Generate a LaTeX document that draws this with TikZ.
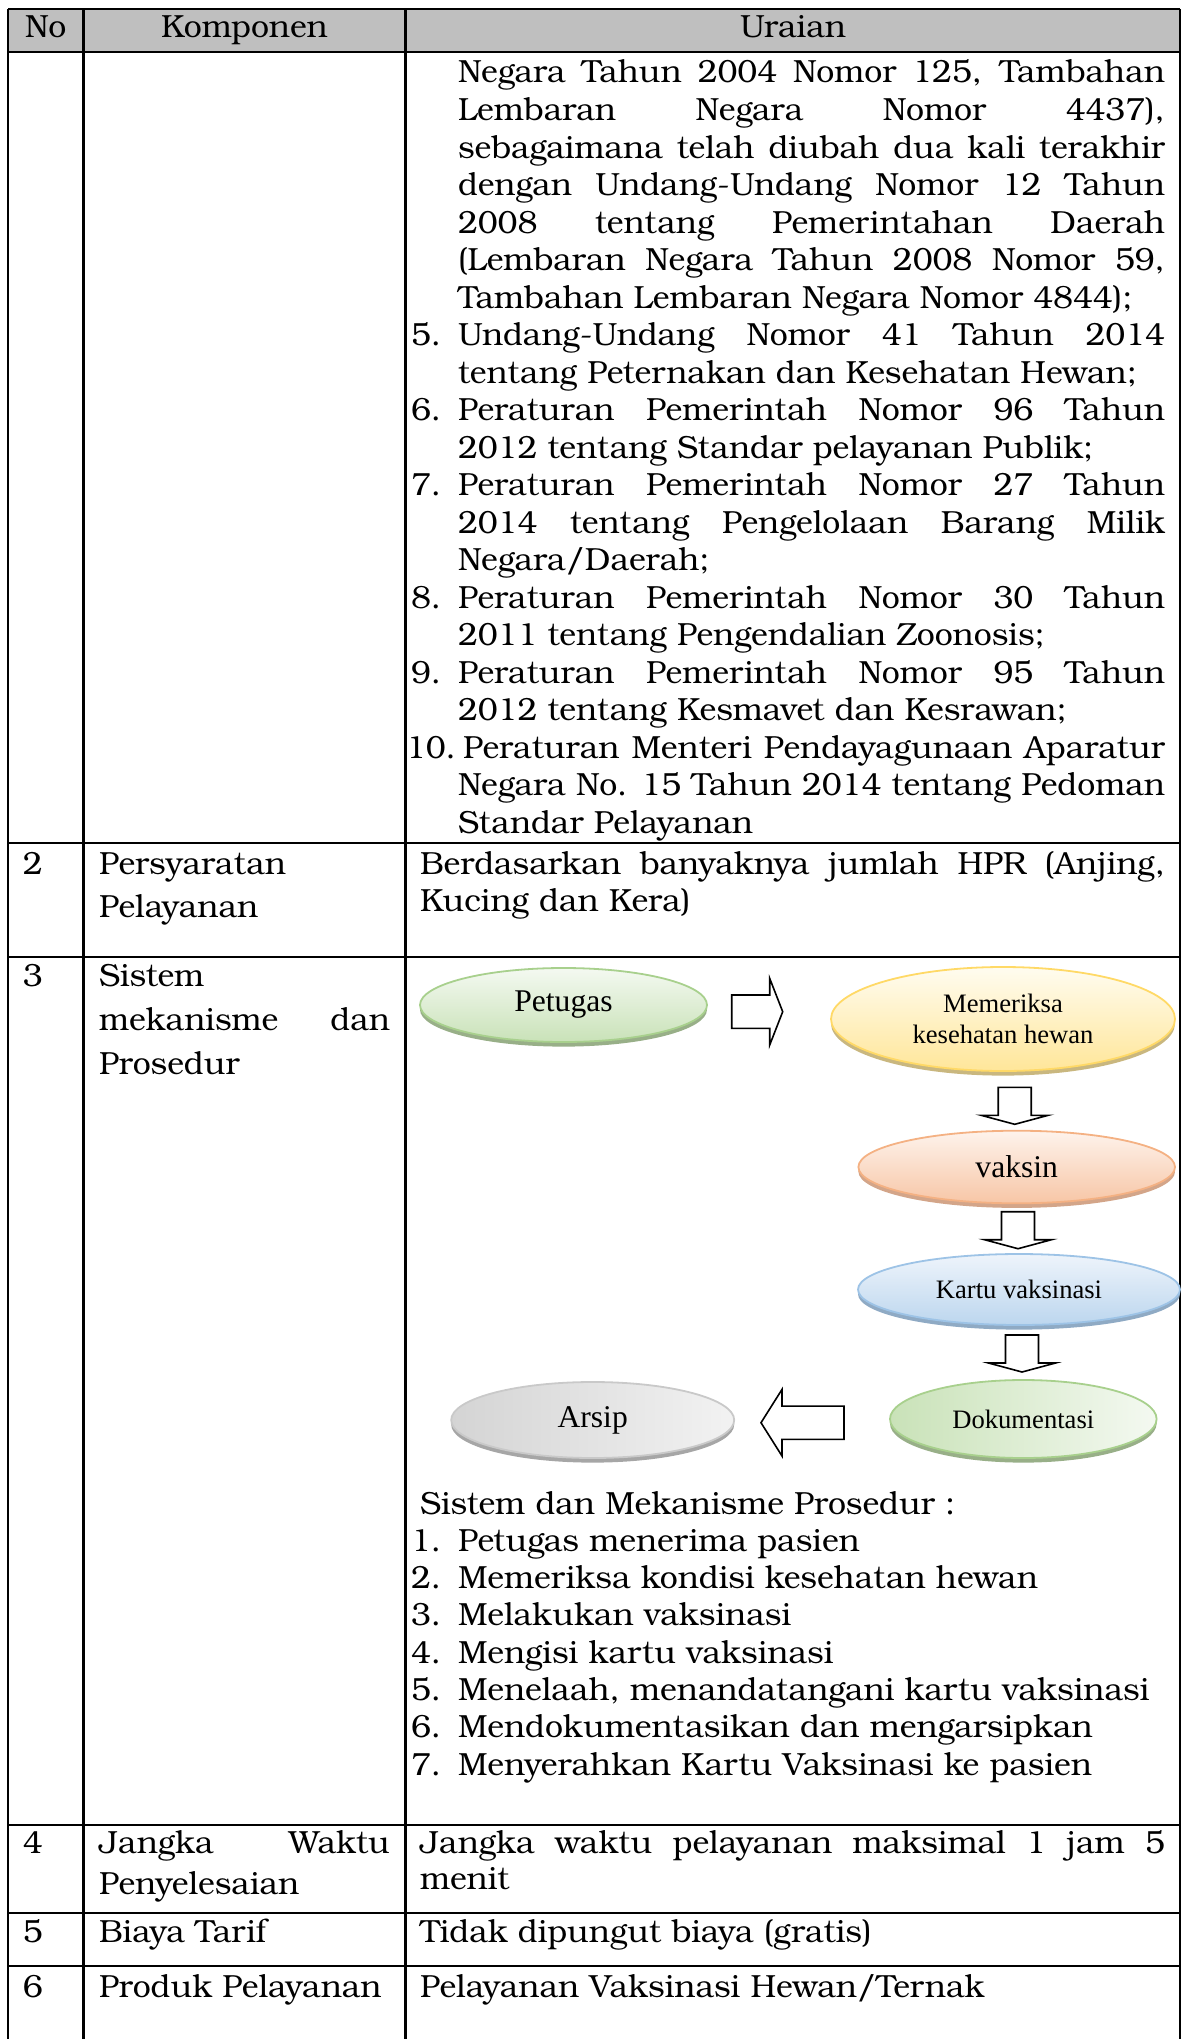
\documentclass[tikz,border=0pt]{standalone}
\usepackage{fontspec}
\setmainfont{texgyrebonum-regular.otf}
\newfontfamily\flowfont{Liberation Serif}
\usetikzlibrary{shapes.geometric,shadows}

\definecolor{headgray}{HTML}{BFBFBF}
\definecolor{greenborder}{HTML}{A8D08D}
\definecolor{greentop}{HTML}{F4F9F1}
\definecolor{greenbot}{HTML}{C9E2B8}
\definecolor{greenshadow}{HTML}{98AF88}
\definecolor{yellowborder}{HTML}{FFD966}
\definecolor{yellowtop}{HTML}{FFFCF0}
\definecolor{yellowbot}{HTML}{FFE699}
\definecolor{yellowshadow}{HTML}{C9B77F}
\definecolor{orangeborder}{HTML}{F4B183}
\definecolor{orangetop}{HTML}{FEF3EC}
\definecolor{orangebot}{HTML}{F7C6A6}
\definecolor{orangeshadow}{HTML}{D3A589}
\definecolor{blueborder}{HTML}{9DC3E6}
\definecolor{bluetop}{HTML}{EEF4FB}
\definecolor{bluebot}{HTML}{BCD6EE}
\definecolor{blueshadow}{HTML}{8FAAC4}
\definecolor{grayborder}{HTML}{C9C9C9}
\definecolor{grayleft}{HTML}{D4D4D4}
\definecolor{grayright}{HTML}{F2F2F2}
\definecolor{grayshadow}{HTML}{A6A6A6}

\tikzset{
  grid/.style={line width=1.15pt},
  txt/.style={anchor=base west, inner sep=0pt, outer sep=0pt,
    font=\fontsize{16}{19}\selectfont},
  ctxt/.style={anchor=base, inner sep=0pt, outer sep=0pt,
    font=\fontsize{16}{19}\selectfont},
  oval/.style={ellipse, draw=#1border, line width=0.9pt, inner sep=0pt,
    drop shadow={shadow xshift=0pt, shadow yshift=-2.3pt, fill=#1shadow, opacity=1}},
  vgrad/.style={top color=#1top, bottom color=#1bot},
  bigtxt/.style={font=\flowfont\fontsize{15.8}{18}\selectfont},
  smalltxt/.style={font=\flowfont\fontsize{13.3}{15.4}\selectfont, align=center},
  blockarrow/.style={draw=black, line width=0.8pt, fill=white, line join=miter},
  pics/downarr/.style={code={
    \draw[blockarrow] (-16.5,0) -- (16.5,0) -- (16.5,28) -- (33.5,28) -- (0,37)
      -- (-33.5,28) -- (-16.5,28) -- cycle;}},
  pics/rightarr/.style={code={
    \draw[blockarrow] (0,-16.7) -- (38,-16.7) -- (38,-33.3) -- (51,0)
      -- (38,33.3) -- (38,16.7) -- (0,16.7) -- cycle;}},
  pics/leftarr/.style={code={
    \draw[blockarrow] (0,-16.6) -- (-62,-16.6) -- (-62,-33.3) -- (-83,0)
      -- (-62,33.3) -- (-62,16.6) -- (0,16.6) -- cycle;}},
}

% one line of text, left aligned at its baseline
\newcounter{lineno}
\newcommand\tline[3]{\stepcounter{lineno}%
  \node[txt] (line\thelineno) at (#1,#2) {#3};}
% one justified line of the given width (pt)
\newcommand\jline[4]{\stepcounter{lineno}%
  \node[txt] (line\thelineno) at (#1,#2) {\makebox[#3pt][s]{#4}};}

\begin{document}
\begin{tikzpicture}[x=0.5pt,y=-0.5pt]
\useasboundingbox (0,0) rectangle (1182,2039);

% ---------- table frame ----------
\fill[headgray] (8,9) rectangle (1180,52);
\draw[grid] (8,9) -- (1180,9);
\draw[grid] (8,52) -- (1180,52);
\draw[grid] (8,843) -- (1180,843);
\draw[grid] (8,957) -- (1180,957);
\draw[grid] (8,1825) -- (1180,1825);
\draw[grid] (8,1913) -- (1180,1913);
\draw[grid] (8,1966) -- (1180,1966);
\draw[grid] (8,9) -- (8,2039);
\draw[grid] (83.5,9) -- (83.5,2039);
\draw[grid] (405.5,9) -- (405.5,2039);
\draw[grid] (1180,9) -- (1180,2039);

% ---------- header ----------
\node[ctxt] (hno) at (45.75,38) {No};
\node[ctxt] (hkomp) at (244.5,38) {Komponen};
\node[ctxt] (huraian) at (793,38) {Uraian};

% ---------- row 1 (continued) ----------
\jline{458}{83}{353.5}{Negara Tahun 2004 Nomor 125, Tambahan}
\jline{458}{120.5}{353.5}{Lembaran Negara Nomor 4437),}
\jline{458}{158}{353.5}{sebagaimana telah diubah dua kali terakhir}
\jline{458}{195.5}{353.5}{dengan Undang-Undang Nomor 12 Tahun}
\jline{458}{233}{353.5}{2008 tentang Pemerintahan Daerah}
\jline{458}{270.5}{353.5}{(Lembaran Negara Tahun 2008 Nomor 59,}
\tline{458}{308}{Tambahan Lembaran Negara Nomor 4844);}
\tline{411}{345.5}{5.}
\jline{458}{345.5}{353.5}{Undang-Undang Nomor 41 Tahun 2014}
\tline{458}{383}{tentang Peternakan dan Kesehatan Hewan;}
\tline{411}{420.5}{6.}
\jline{458}{420.5}{353.5}{Peraturan Pemerintah Nomor 96 Tahun}
\tline{458}{458}{2012 tentang Standar pelayanan Publik;}
\tline{411}{495.5}{7.}
\jline{458}{495.5}{353.5}{Peraturan Pemerintah Nomor 27 Tahun}
\jline{458}{533}{353.5}{2014 tentang Pengelolaan Barang Milik}
\tline{458}{570.5}{Negara/Daerah;}
\tline{411}{608}{8.}
\jline{458}{608}{353.5}{Peraturan Pemerintah Nomor 30 Tahun}
\tline{458}{645.5}{2011 tentang Pengendalian Zoonosis;}
\tline{411}{683}{9.}
\jline{458}{683}{353.5}{Peraturan Pemerintah Nomor 95 Tahun}
\tline{458}{720.5}{2012 tentang Kesmavet dan Kesrawan;}
\tline{406}{758}{10.}
\jline{463}{758}{351}{Peraturan Menteri Pendayagunaan Aparatur}
\jline{458}{795.5}{353.5}{Negara No. 15 Tahun 2014 tentang Pedoman}
\tline{458}{833}{Standar Pelayanan}

% ---------- row 2 ----------
\tline{23}{874}{2}
\tline{99}{874}{Persyaratan}
\tline{99}{917}{Pelayanan}
\jline{420}{874}{372.5}{Berdasarkan banyaknya jumlah HPR (Anjing,}
\tline{420}{911}{Kucing dan Kera)}

% ---------- row 3 ----------
\tline{23}{986}{3}
\tline{99}{986}{Sistem}
\jline{99}{1030}{145.5}{mekanisme dan}
\tline{99}{1074}{Prosedur}

% flow of the procedure
\node[oval=green, vgrad=green, bigtxt, minimum width=143.5pt, minimum height=37pt]
  (petugas) at (563.5,1005) {Petugas};
\node[oval=yellow, vgrad=yellow, smalltxt, minimum width=172pt, minimum height=52pt]
  (periksa) at (1003,1019) {Memeriksa\\kesehatan hewan};
\node[oval=orange, vgrad=orange, bigtxt, minimum width=158.3pt, minimum height=36.3pt]
  (vaksin) at (1016.7,1167) {vaksin};
\node[oval=blue, vgrad=blue, smalltxt, minimum width=161pt, minimum height=35.5pt]
  (kartu) at (1019,1289.5) {Kartu vaksinasi};
\node[oval=green, left color=greenbot, right color=greentop, smalltxt,
  minimum width=133.3pt, minimum height=39pt]
  (dokumentasi) at (1023.3,1419) {Dokumentasi};
\node[oval=gray, left color=grayleft, right color=grayright, bigtxt,
  minimum width=141.5pt, minimum height=38pt]
  (arsip) at (592.7,1420) {Arsip};

\pic at (731.7,1011.7) {rightarr};
\pic at (1014.7,1087.3) {downarr};
\pic at (1018,1211.7) {downarr};
\pic at (1022,1335) {downarr};
\pic at (844,1422.7) {leftarr};

\tline{420}{1514}{Sistem dan Mekanisme Prosedur :}
\tline{411}{1551.3}{1.}\tline{458}{1551.3}{Petugas menerima pasien}
\tline{411}{1588.6}{2.}\tline{458}{1588.6}{Memeriksa kondisi kesehatan hewan}
\tline{411}{1625.9}{3.}\tline{458}{1625.9}{Melakukan vaksinasi}
\tline{411}{1663.2}{4.}\tline{458}{1663.2}{Mengisi kartu vaksinasi}
\tline{411}{1700.5}{5.}\tline{458}{1700.5}{Menelaah, menandatangani kartu vaksinasi}
\tline{411}{1737.8}{6.}\tline{458}{1737.8}{Mendokumentasikan dan mengarsipkan}
\tline{411}{1775.1}{7.}\tline{458}{1775.1}{Menyerahkan Kartu Vaksinasi ke pasien}

% ---------- row 4 ----------
\tline{23}{1853}{4}
\jline{99}{1853}{145.5}{Jangka Waktu}
\tline{99}{1894}{Penyelesaian}
\jline{420}{1853}{372.5}{Jangka waktu pelayanan maksimal 1 jam 5}
\tline{420}{1889}{menit}

% ---------- row 5 ----------
\tline{23}{1942}{5}
\tline{99}{1942}{Biaya Tarif}
\tline{420}{1942}{Tidak dipungut biaya (gratis)}

% ---------- row 6 ----------
\tline{23}{1997}{6}
\tline{99}{1997}{Produk Pelayanan}
\tline{420}{1997}{Pelayanan Vaksinasi Hewan/Ternak}
\end{tikzpicture}
\end{document}
